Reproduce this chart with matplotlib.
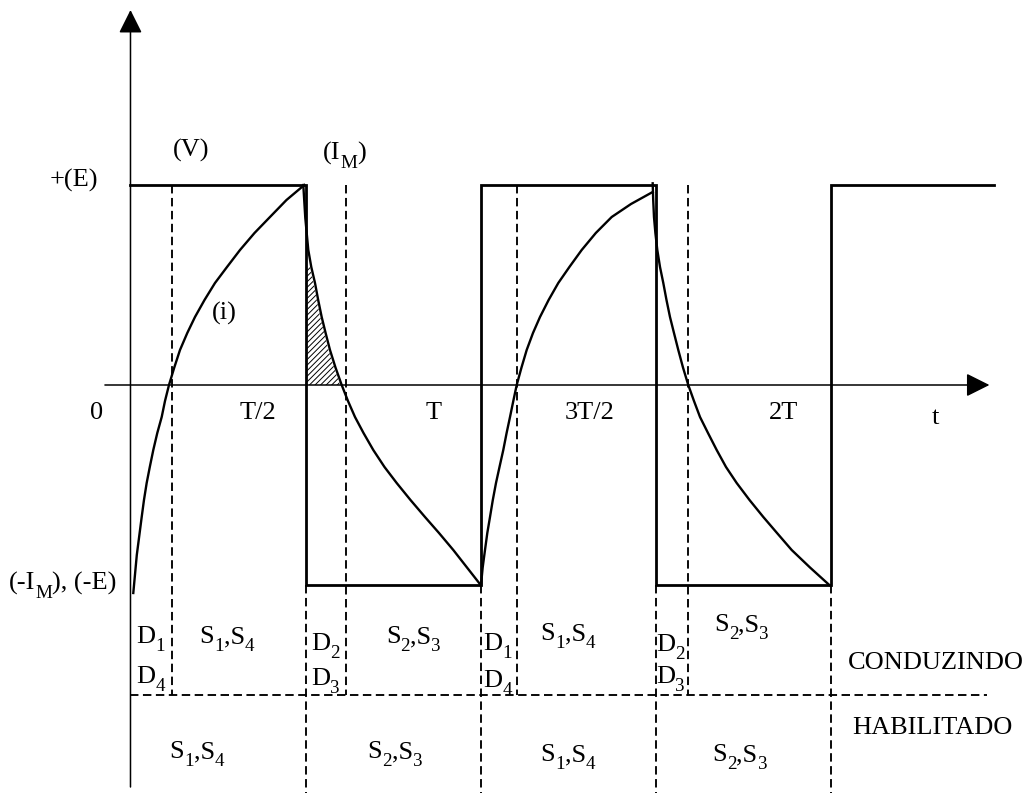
import matplotlib
matplotlib.use('Agg')
import matplotlib.pyplot as plt
from matplotlib.transforms import offset_copy

# time axis in units of the period T, amplitudes in units of E (= I_M)
v_t = [0.0, 0.5, 0.5, 1.0, 1.0, 1.5, 1.5, 2.0, 2.0, 2.465]
v_val = [1, 1, -1, -1, 1, 1, -1, -1, 1, 1]

# load current i(t), one list per half period
i1_t = [0.0080, 0.0180, 0.0320, 0.0385, 0.0462, 0.0551, 0.0651, 0.0765, 0.0891, 0.0985, 0.1099,
        0.1250, 0.1413, 0.1621, 0.1841, 0.2113, 0.2412, 0.2755, 0.3126, 0.3540, 0.3982, 0.4453, 0.4962]
i1_val = [-1.04, -0.85, -0.66, -0.575, -0.49, -0.41, -0.325, -0.24, -0.16, -0.08, 0.0,
          0.0875, 0.175, 0.26, 0.34, 0.425, 0.51, 0.59, 0.675, 0.76, 0.84, 0.925, 1.0]

i2_t = [0.4933, 0.4990, 0.5076, 0.5161, 0.5267, 0.5358, 0.5458, 0.5570, 0.5695, 0.5852, 0.6029, 0.6209,
        0.6409, 0.6652, 0.6931, 0.7251, 0.7599, 0.7993, 0.8407, 0.8807, 0.9215, 0.9606, 0.9997]
i2_val = [1.0, 0.835, 0.675, 0.59, 0.51, 0.425, 0.34, 0.26, 0.175, 0.0875, 0.0, -0.08,
          -0.16, -0.24, -0.325, -0.41, -0.49, -0.575, -0.66, -0.74, -0.825, -0.9125, -1.0]

i3_t = [1.0006, 1.0054, 1.0120, 1.0186, 1.0263, 1.0343, 1.0434, 1.0534, 1.0642, 1.0737, 1.0834, 1.0928, 1.1025,
        1.1162, 1.1310, 1.1490, 1.1690, 1.1936, 1.2212, 1.2529, 1.2880, 1.3283, 1.3737, 1.4288, 1.4907]
i3_val = [-1.0, -0.9125, -0.825, -0.74, -0.66, -0.575, -0.49, -0.41, -0.325, -0.24, -0.16, -0.08, 0.0,
          0.0875, 0.175, 0.26, 0.34, 0.425, 0.51, 0.59, 0.675, 0.76, 0.84, 0.905, 0.965]

i4_t = [1.4907, 1.4922, 1.4944, 1.4984, 1.5039, 1.5116, 1.5210, 1.5301, 1.5401, 1.5515, 1.5638, 1.5772, 1.5923,
        1.6086, 1.6258, 1.6486, 1.6734, 1.7000, 1.7305, 1.7671, 1.8065, 1.8456, 1.8875, 1.9398, 1.9949]
i4_val = [1.0085, 0.925, 0.84, 0.76, 0.675, 0.59, 0.51, 0.425, 0.34, 0.26, 0.175, 0.0875, 0.0,
          -0.08, -0.16, -0.24, -0.325, -0.41, -0.49, -0.575, -0.66, -0.74, -0.825, -0.9125, -1.0]

# instants where the current crosses zero and where the switches toggle
zero_cross_t = [0.1185, 0.615, 1.1025, 1.5924]
switch_t = [0.5, 1.0, 1.5, 2.0]

# which devices conduct / are enabled in each interval (text, subscript, text, ...)
diodes = [(['D', '1'], ['D', '4']), (['D', '2'], ['D', '3']),
          (['D', '1'], ['D', '4']), (['D', '2'], ['D', '3'])]
switches = [['S', '1', ',S', '4'], ['S', '2', ',S', '3'], ['S', '1', ',S', '4'], ['S', '2', ',S', '3']]

plt.rcParams['font.family'] = ['Liberation Serif', 'DejaVu Serif']
plt.rcParams['hatch.color'] = 'k'
plt.rcParams['hatch.linewidth'] = 0.7

FS = 19
SUB_SCALE = 0.72
SUB_DROP = 8       # pixels
ROW_SPLIT = -1.55


def sub_text(ax, x, y, parts, ha='center'):
    """Write text with lowered subscripts; y is the baseline, odd entries of parts are subscripts."""
    fig = ax.figure
    r = fig.canvas.get_renderer()
    pieces = []
    for k, s in enumerate(parts):
        sub = k % 2 == 1
        t = ax.text(x, y, s, fontsize=FS * SUB_SCALE if sub else FS, ha='left', va='baseline')
        pieces.append((t, t.get_window_extent(r).width, sub))
    total = sum(w for _, w, _ in pieces)
    pos = {'center': -total / 2, 'right': -total, 'left': 0}[ha]
    for t, w, sub in pieces:
        t.set_transform(offset_copy(ax.transData, fig=fig, x=pos,
                                    y=-SUB_DROP if sub else 0, units='dots'))
        pos += w


def main():
    fig = plt.figure(figsize=(10.28, 7.93), dpi=100)
    ax = fig.add_axes([0, 0, 1, 1])
    ax.set_xlim(-0.3725, 2.5621)
    ax.set_ylim(-2.04, 1.925)
    ax.axis('off')

    # axes with arrow heads
    head = dict(arrowstyle='-|>,head_length=1.0,head_width=0.5', mutation_scale=14.4,
                color='k', lw=1.1, shrinkA=0, shrinkB=0)
    ax.annotate('', xy=(2.452, 0), xytext=(-0.073, 0), arrowprops=head)
    ax.annotate('', xy=(0, 1.875), xytext=(0, -2.01), arrowprops=head)

    # inverter output voltage
    ax.plot(v_t, v_val, color='k', lw=2.0, solid_joinstyle='miter')

    # load current
    for ts, vals in [(i1_t, i1_val), (i2_t, i2_val), (i3_t, i3_val), (i4_t, i4_val)]:
        ax.plot(ts, vals, color='k', lw=1.7, solid_joinstyle='round')

    # energy returned through D2, D3 after the first turn-off
    sel = [(t, v) for t, v in zip(i2_t, i2_val) if 0 <= v <= 0.6]
    ax.fill_betweenx([v for t, v in sel], 0.5, [t - 0.004 for t, v in sel],
                     facecolor='none', edgecolor='k', hatch='//////', lw=0)

    dash = dict(color='k', lw=1.35, ls=(0, (4.5, 2.4)))
    for t in zero_cross_t:
        ax.plot([t, t], [1.0, ROW_SPLIT], **dash)
    for t in switch_t:
        ax.plot([t, t], [-1.0, -2.04], **dash)
    ax.plot([0, 2.445], [ROW_SPLIT, ROW_SPLIT], **dash)

    # axis labels
    txt = dict(fontsize=FS, ha='center', va='center')
    ax.text(-0.161, 1.025, '+(E)', **txt)
    ax.text(0.172, 1.175, '(V)', **txt)
    sub_text(ax, 0.6097, 1.125, ['(I', 'M', ')'])
    ax.text(0.267, 0.36, '(i)', **txt)
    sub_text(ax, -0.04, -1.025, ['(-I', 'M', '), (-E)'], ha='right')
    for t, lab in zip([-0.096, 0.364, 0.866, 1.312, 1.863], ['0', 'T/2', 'T', '3T/2', '2T']):
        ax.text(t, -0.14, lab, **txt)
    ax.text(2.297, -0.165, 't', **txt)

    # conduction table
    d_pos = [(0.058, -1.292, -1.492), (0.557, -1.325, -1.50), (1.048, -1.325, -1.508), (1.542, -1.332, -1.492)]
    for (top, bot), (t, y1, y2) in zip(diodes, d_pos):
        sub_text(ax, t, y1, top)
        sub_text(ax, t, y2, bot)
    s_pos = [(0.275, -1.292), (0.807, -1.292), (1.249, -1.275), (1.744, -1.232)]
    for parts, (t, y) in zip(switches, s_pos):
        sub_text(ax, t, y, parts)
    h_pos = [(0.189, -1.867), (0.755, -1.867), (1.249, -1.882), (1.739, -1.882)]
    for parts, (t, y) in zip(switches, h_pos):
        sub_text(ax, t, y, parts)

    ax.text(2.048, -1.39, 'CONDUZINDO', fontsize=FS, ha='left', va='center')
    ax.text(2.059, -1.715, 'HABILITADO', fontsize=FS, ha='left', va='center')

    fig.savefig('out.png', dpi=100)


if __name__ == '__main__':
    main()
